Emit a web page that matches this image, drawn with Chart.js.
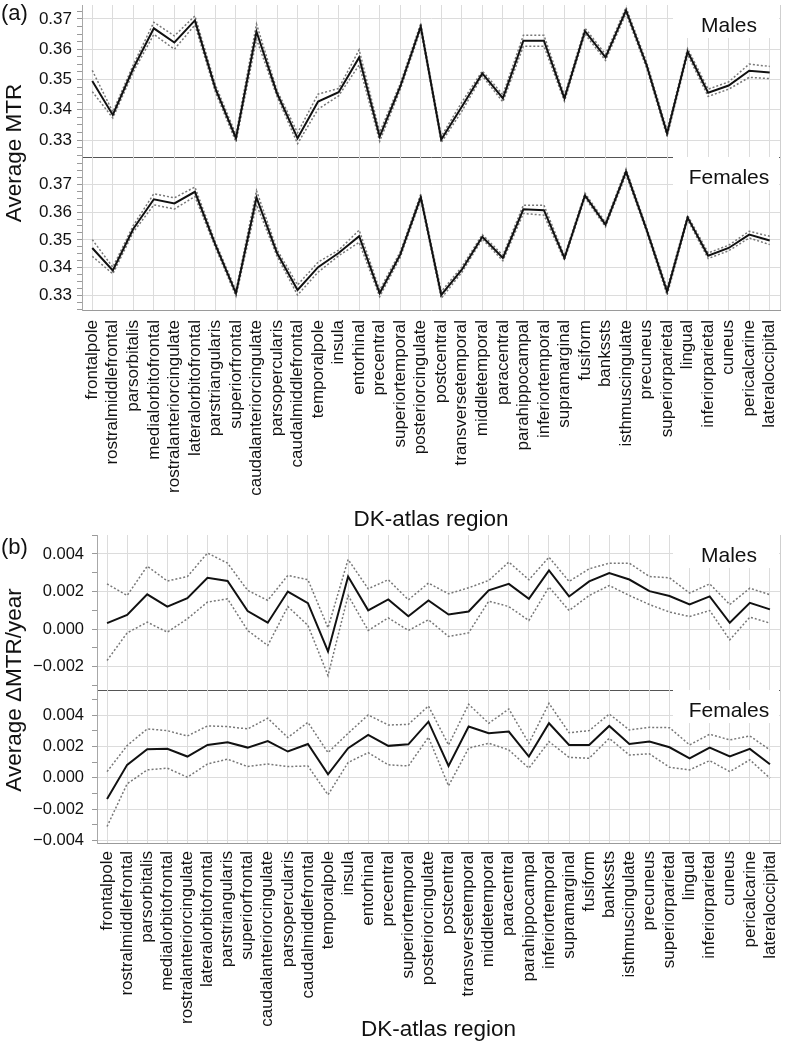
<!DOCTYPE html>
<html>
<head>
<meta charset="utf-8">
<script src="https://cdn.jsdelivr.net/npm/chart.js@4.4.1/dist/chart.umd.min.js"></script>
<style>
  body { margin: 0; background: #fff; }
  #page { position: relative; width: 785px; height: 1043px; overflow: hidden; font-family: 'Liberation Sans', Arial, sans-serif; color: #111; }
  canvas { position: absolute; left: 0; }
  .lbl { position: absolute; white-space: nowrap; }
  .ytitle { position: absolute; white-space: nowrap; font-size: 22.5px; transform: translate(-50%, -50%) rotate(-90deg); }
</style>
</head>
<body>
<div id="page">
  <canvas id="aM" width="785" height="158" style="top:0px"></canvas>
  <canvas id="aF" width="785" height="376" style="top:157px"></canvas>
  <canvas id="bM" width="785" height="161" style="top:530px"></canvas>
  <canvas id="bF" width="785" height="353" style="top:690px"></canvas>
  <div class="lbl" style="left:1px; top:0px; font-size:22px">(a)</div>
  <div class="lbl" style="left:1px; top:534px; font-size:22px">(b)</div>
  <div class="ytitle" style="left:14px; top:153px">Average MTR</div>
  <div class="ytitle" style="left:14px; top:690px">Average ΔMTR/year</div>
</div>
<script>
'use strict';

var regions = ['frontalpole', 'rostralmiddlefrontal', 'parsorbitalis', 'medialorbitofrontal',
  'rostralanteriorcingulate', 'lateralorbitofrontal', 'parstriangularis', 'superiorfrontal',
  'caudalanteriorcingulate', 'parsopercularis', 'caudalmiddlefrontal', 'temporalpole', 'insula',
  'entorhinal', 'precentral', 'superiortemporal', 'posteriorcingulate', 'postcentral',
  'transversetemporal', 'middletemporal', 'paracentral', 'parahippocampal', 'inferiortemporal',
  'supramarginal', 'fusiform', 'bankssts', 'isthmuscingulate', 'precuneus', 'superiorparietal',
  'lingual', 'inferiorparietal', 'cuneus', 'pericalcarine', 'lateraloccipital'];

// (a) average MTR, males
var maleMTR   = [0.3495, 0.3383, 0.3537, 0.3669, 0.3622, 0.3695, 0.3470, 0.3306, 0.3658, 0.3454, 0.3306, 0.3427, 0.3458, 0.3573, 0.3311, 0.3476, 0.3675, 0.3302, 0.3410, 0.3520, 0.3438, 0.3628, 0.3628, 0.3438, 0.3660, 0.3573, 0.3728, 0.3548, 0.3322, 0.3592, 0.3456, 0.3480, 0.3529, 0.3523];
var maleMTRlo = [0.3460, 0.3373, 0.3525, 0.3649, 0.3600, 0.3680, 0.3458, 0.3294, 0.3633, 0.3444, 0.3288, 0.3402, 0.3446, 0.3548, 0.3296, 0.3466, 0.3665, 0.3292, 0.3395, 0.3512, 0.3426, 0.3610, 0.3610, 0.3428, 0.3650, 0.3563, 0.3718, 0.3538, 0.3312, 0.3582, 0.3444, 0.3468, 0.3507, 0.3503];
var maleMTRhi = [0.3530, 0.3393, 0.3549, 0.3689, 0.3644, 0.3710, 0.3482, 0.3318, 0.3683, 0.3464, 0.3324, 0.3452, 0.3470, 0.3598, 0.3326, 0.3486, 0.3685, 0.3312, 0.3425, 0.3528, 0.3450, 0.3646, 0.3646, 0.3448, 0.3670, 0.3583, 0.3738, 0.3558, 0.3332, 0.3602, 0.3468, 0.3492, 0.3551, 0.3543];

// (a) average MTR, females
var femMTR   = [0.3471, 0.3390, 0.3540, 0.3646, 0.3631, 0.3673, 0.3482, 0.3308, 0.3652, 0.3453, 0.3320, 0.3402, 0.3453, 0.3513, 0.3308, 0.3447, 0.3654, 0.3302, 0.3393, 0.3511, 0.3435, 0.3610, 0.3607, 0.3435, 0.3660, 0.3555, 0.3745, 0.3537, 0.3314, 0.3580, 0.3443, 0.3471, 0.3519, 0.3498];
var femMTRlo = [0.3441, 0.3378, 0.3528, 0.3626, 0.3611, 0.3656, 0.3472, 0.3298, 0.3627, 0.3441, 0.3302, 0.3384, 0.3443, 0.3491, 0.3296, 0.3437, 0.3644, 0.3290, 0.3383, 0.3503, 0.3425, 0.3595, 0.3589, 0.3427, 0.3652, 0.3547, 0.3735, 0.3529, 0.3302, 0.3572, 0.3433, 0.3461, 0.3507, 0.3483];
var femMTRhi = [0.3501, 0.3402, 0.3552, 0.3666, 0.3651, 0.3690, 0.3492, 0.3318, 0.3677, 0.3465, 0.3338, 0.3420, 0.3463, 0.3535, 0.3320, 0.3457, 0.3664, 0.3314, 0.3403, 0.3519, 0.3445, 0.3625, 0.3625, 0.3443, 0.3668, 0.3563, 0.3755, 0.3545, 0.3326, 0.3588, 0.3453, 0.3481, 0.3531, 0.3513];

// (b) average change of MTR per year, males
var maleRate   = [0.00032, 0.00076, 0.00185, 0.00120, 0.00165, 0.00273, 0.00256, 0.00096, 0.00034, 0.00200, 0.00138, -0.00119, 0.00280, 0.00100, 0.00158, 0.00069, 0.00153, 0.00078, 0.00094, 0.00206, 0.00241, 0.00161, 0.00312, 0.00174, 0.00254, 0.00298, 0.00264, 0.00202, 0.00176, 0.00131, 0.00174, 0.00034, 0.00140, 0.00105];
var maleRateLo = [-0.00167, -0.00020, 0.00037, -0.00016, 0.00055, 0.00144, 0.00161, -0.00007, -0.00087, 0.00120, 0.00020, -0.00247, 0.00179, -0.00007, 0.00060, -0.00007, 0.00050, -0.00039, -0.00020, 0.00149, 0.00120, 0.00046, 0.00224, 0.00099, 0.00179, 0.00232, 0.00179, 0.00131, 0.00091, 0.00067, 0.00099, -0.00057, 0.00064, 0.00032];
var maleRateHi = [0.00241, 0.00179, 0.00335, 0.00256, 0.00280, 0.00405, 0.00351, 0.00206, 0.00153, 0.00286, 0.00263, 0.00007, 0.00371, 0.00215, 0.00263, 0.00156, 0.00245, 0.00188, 0.00220, 0.00259, 0.00357, 0.00263, 0.00383, 0.00254, 0.00321, 0.00351, 0.00351, 0.00280, 0.00273, 0.00192, 0.00241, 0.00131, 0.00218, 0.00183];

// (b) average change of MTR per year, females
var femRate   = [-0.00134, 0.00083, 0.00182, 0.00185, 0.00136, 0.00210, 0.00227, 0.00193, 0.00235, 0.00168, 0.00216, 0.00023, 0.00189, 0.00274, 0.00204, 0.00214, 0.00358, 0.00076, 0.00327, 0.00284, 0.00295, 0.00136, 0.00348, 0.00210, 0.00210, 0.00331, 0.00216, 0.00231, 0.00195, 0.00125, 0.00193, 0.00136, 0.00185, 0.00087];
var femRateLo = [-0.00310, -0.00038, 0.00051, 0.00062, 0.00004, 0.00089, 0.00119, 0.00072, 0.00089, 0.00072, 0.00076, -0.00108, 0.00098, 0.00161, 0.00083, 0.00076, 0.00259, -0.00051, 0.00189, 0.00221, 0.00178, 0.00062, 0.00231, 0.00131, 0.00125, 0.00252, 0.00146, 0.00153, 0.00068, 0.00051, 0.00110, 0.00040, 0.00115, -0.00002];
var femRateHi = [0.00040, 0.00206, 0.00312, 0.00301, 0.00267, 0.00331, 0.00327, 0.00312, 0.00380, 0.00257, 0.00354, 0.00161, 0.00284, 0.00401, 0.00337, 0.00341, 0.00458, 0.00210, 0.00469, 0.00348, 0.00439, 0.00221, 0.00475, 0.00288, 0.00301, 0.00407, 0.00305, 0.00322, 0.00320, 0.00210, 0.00278, 0.00242, 0.00267, 0.00178];

Chart.defaults.font.family = "'Liberation Sans', Arial, sans-serif";
Chart.defaults.color = '#111';

// white box with "Males"/"Females" in the top right corner of a panel
var panelLabel = {
  id: 'panelLabel',
  beforeDatasetsDraw: function (chart, args, opts) {
    var a = chart.chartArea, ctx = chart.ctx;
    ctx.save();
    ctx.fillStyle = '#fff';
    ctx.fillRect(673, a.top, a.right - 673 - 1, 33);
    ctx.fillStyle = '#111';
    ctx.font = "21px 'Liberation Sans', Arial, sans-serif";
    ctx.textAlign = 'center';
    ctx.textBaseline = 'middle';
    ctx.fillText(opts.text, 729, a.top + opts.dy);
    ctx.restore();
  }
};

// thin right border of the plot area
var rightEdge = {
  id: 'rightEdge',
  afterDraw: function (chart) {
    var a = chart.chartArea, ctx = chart.ctx;
    ctx.save();
    ctx.strokeStyle = '#cfcfcf';
    ctx.lineWidth = 1;
    ctx.beginPath();
    ctx.moveTo(a.right + 0.5, a.top);
    ctx.lineTo(a.right + 0.5, a.bottom);
    ctx.stroke();
    ctx.restore();
  }
};

function onStep(v, step) {
  var r = v / step;
  return Math.abs(r - Math.round(r)) < 1e-4;
}

function makePanel(id, cfg) {
  var datasets = [
    { data: cfg.mean, borderColor: '#111', borderWidth: 2 },
    { data: cfg.lo, borderColor: '#777', borderWidth: 1.5, borderDash: [2, 2] },
    { data: cfg.hi, borderColor: '#777', borderWidth: 1.5, borderDash: [2, 2] }
  ];

  return new Chart(document.getElementById(id), {
    type: 'line',
    data: { labels: regions, datasets: datasets },
    plugins: [panelLabel, rightEdge],
    options: {
      responsive: false,
      animation: false,
      elements: { point: { radius: 0 }, line: { tension: 0 } },
      layout: { padding: { top: cfg.padTop, right: 5, left: 0, bottom: cfg.padBottom } },
      plugins: {
        legend: { display: false },
        tooltip: { enabled: false },
        panelLabel: { text: cfg.label, dy: 21 }
      },
      scales: {
        x: {
          offset: true,
          grid: { color: '#dcdcdc', drawTicks: false },
          border: { color: cfg.bottom ? '#9a9a9a' : '#555', width: 1 },
          ticks: {
            display: cfg.bottom,
            autoSkip: false,
            minRotation: 90,
            maxRotation: 90,
            padding: cfg.labelPad,
            font: { size: 17 },
            color: '#111'
          },
          title: {
            display: cfg.bottom,
            text: 'DK-atlas region',
            font: { size: 22.5 },
            color: '#111',
            padding: { top: 4, bottom: 0 }
          },
          afterFit: function (s) {
            s.height = cfg.xHeight;
            s.paddingLeft = 0;
            s.paddingRight = 0;
          }
        },
        y: {
          min: cfg.min,
          max: cfg.max,
          border: { color: '#a8a8a8' },
          grid: {
            color: function (c) {
              return c.tick && onStep(c.tick.value, cfg.major) ? '#dcdcdc' : 'rgba(0,0,0,0)';
            },
            tickColor: '#9a9a9a',
            tickLength: 5
          },
          ticks: {
            autoSkip: false,
            padding: cfg.tickPad,
            font: { size: cfg.tickSize },
            color: '#111',
            callback: function (v) {
              if (!onStep(v, cfg.major)) return '';
              var s = (Math.abs(v) < 1e-9 ? 0 : v).toFixed(cfg.digits);
              return s.replace('-', '\u2212');
            }
          },
          afterBuildTicks: function (s) {
            // minor ticks every cfg.minor, labels only on the major ones
            var t = [];
            var k0 = Math.ceil(cfg.min / cfg.minor - 1e-6);
            var k1 = Math.floor(cfg.max / cfg.minor + 1e-6);
            for (var k = k0; k <= k1; k++) t.push({ value: +(k * cfg.minor).toFixed(6) });
            s.ticks = t;
          },
          afterFit: function (s) {
            s.width = cfg.yWidth;
            s.paddingTop = 0;
            s.paddingBottom = 0;
          }
        }
      }
    }
  });
}

makePanel('aM', { mean: maleMTR, lo: maleMTRlo, hi: maleMTRhi, label: 'Males',
  min: 0.3244, max: 0.3746, major: 0.01, minor: 0.0025, digits: 2, tickSize: 17, tickPad: 5,
  yWidth: 82, padTop: 5, padBottom: 1, xHeight: 0, bottom: false, labelPad: 0 });

makePanel('aF', { mean: femMTR, lo: femMTRlo, hi: femMTRhi, label: 'Females',
  min: 0.3248, max: 0.3798, major: 0.01, minor: 0.0025, digits: 2, tickSize: 17, tickPad: 5,
  yWidth: 82, padTop: 0, padBottom: 0, xHeight: 223, bottom: true, labelPad: 10 });

makePanel('bM', { mean: maleRate, lo: maleRateLo, hi: maleRateHi, label: 'Males',
  min: -0.00324, max: 0.00501, major: 0.002, minor: 0.001, digits: 3, tickSize: 16.5, tickPad: 8,
  yWidth: 97, padTop: 5, padBottom: 1, xHeight: 0, bottom: false, labelPad: 0 });

makePanel('bF', { mean: femRate, lo: femRateLo, hi: femRateHi, label: 'Females',
  min: -0.00415, max: 0.0056, major: 0.002, minor: 0.001, digits: 3, tickSize: 16.5, tickPad: 8,
  yWidth: 97, padTop: 0, padBottom: 0, xHeight: 200, bottom: true, labelPad: 8 });
</script>
</body>
</html>
